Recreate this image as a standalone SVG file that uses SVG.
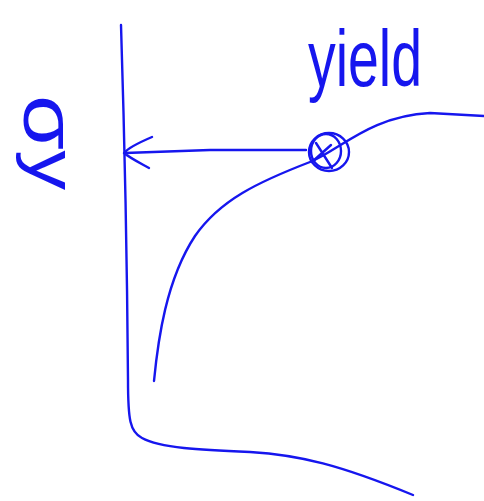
<svg xmlns="http://www.w3.org/2000/svg" width="484" height="501" viewBox="0 0 484 501">
<style>
.s{fill:none;stroke:#1616ee;stroke-width:2.4;stroke-linecap:round;stroke-linejoin:round}
.t{fill:#1616ee;font-family:"Liberation Sans",Arial,sans-serif}
</style>
<rect width="484" height="501" fill="#fff"/>
<g id="connectors">
<path class="s" d="M121,25 C124,120 127,250 128,380 C128,420 130,432 142,438 C160,448 200,450 250,452 C300,455 340,465 413,495"/>
<path class="s" d="M154,381 C158,340 166,280 195,236 C220,200 258,182 310,162 C340,150 370,116 430,113 L484,116"/>
<path class="s" d="M306,150 L210,150 L125,153 M152,137 C138,143 128,148 124,153 C130,158 140,163 149,168"/>
</g>
<g id="yield-point">
<ellipse class="s" cx="329" cy="152" rx="20" ry="19"/>
<ellipse class="s" cx="326" cy="151" rx="15" ry="17"/>
<path class="s" d="M316,143 L332,168 M331,145 L312,162"/>
</g>
<g id="label-yield">
<text class="t" x="308" y="86" font-size="80" textLength="114" lengthAdjust="spacingAndGlyphs">yield</text>
</g>
<g id="label-sigma">
<text class="t" transform="translate(24,95) rotate(90)" font-size="74" textLength="95" lengthAdjust="spacingAndGlyphs">σ<tspan font-size="66" dy="-6">y</tspan></text>
</g>
</svg>
